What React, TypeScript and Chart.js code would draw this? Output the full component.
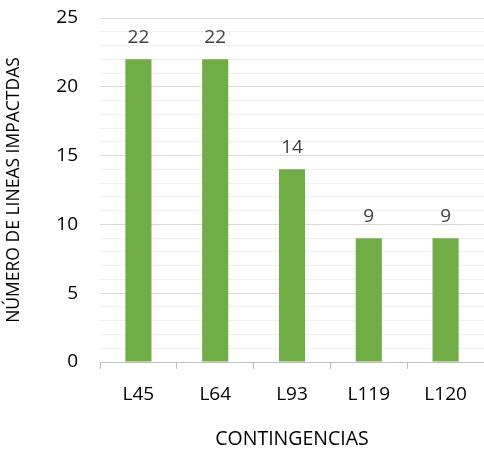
import React, { useEffect, useRef } from "react";
import { Chart, registerables } from "chart.js";

Chart.register(...registerables);

const categories = ["L45", "L64", "L93", "L119", "L120"];
const values = [22, 22, 14, 9, 9];
const yTitle = "NÚMERO DE LINEAS IMPACTDAS";
const xTitle = "CONTINGENCIAS";
const FONT = "'Open Sans', 'Liberation Sans', sans-serif";

const valueLabels = {
  id: "valueLabels",
  afterDatasetsDraw(chart: any) {
    const ctx = chart.ctx;
    const meta = chart.getDatasetMeta(0);
    ctx.save();
    ctx.fillStyle = "#404040";
    ctx.font = `19px ${FONT}`;
    ctx.textAlign = "center";
    ctx.textBaseline = "alphabetic";
    meta.data.forEach((bar: any, i: number) => {
      ctx.fillText(String(values[i]), bar.x, bar.y - 16);
    });
    ctx.restore();
  },
};

export default function App() {
  const ref = useRef<HTMLCanvasElement>(null);
  useEffect(() => {
    document.body.style.margin = "0";
    const chart = new Chart(ref.current!, {
      type: "bar",
      data: {
        labels: categories,
        datasets: [
          {
            data: values,
            backgroundColor: "#70ad47",
            categoryPercentage: 1,
            barPercentage: 0.34,
          },
        ],
      },
      options: {
        responsive: false,
        animation: false,
        layout: { padding: { top: 18, right: 0, left: 0, bottom: 0 } },
        plugins: { legend: { display: false }, tooltip: { enabled: false } },
        scales: {
          x: {
            grid: {
              drawOnChartArea: false,
              drawTicks: true,
              tickLength: 7,
              color: "#bfbfbf",
              offset: true,
            },
            border: { color: "#bfbfbf", width: 1 },
            ticks: {
              color: "#000000",
              font: { family: FONT, size: 19 },
              padding: 14,
            },
            title: {
              display: true,
              text: xTitle,
              color: "#000000",
              font: { family: FONT, size: 19.5 },
              padding: { top: 0, bottom: 1 },
            },
            afterFit(scale: any) {
              scale.height = 90;
            },
          },
          y: {
            min: 0,
            max: 25,
            grid: {
              drawTicks: false,
              color: (c: any) =>
                c.tick && c.tick.value % 5 === 0 ? "#d9d9d9" : "#f0f0f0",
              lineWidth: 1,
            },
            border: { display: false },
            ticks: {
              stepSize: 1,
              autoSkip: false,
              color: "#000000",
              font: { family: FONT, size: 19 },
              padding: 22,
              callback: (v: any) => (Number(v) % 5 === 0 ? String(v) : ""),
            },
            title: {
              display: true,
              text: yTitle,
              color: "#000000",
              font: { family: FONT, size: 17.5 },
              padding: { top: 4, bottom: 0 },
            },
            afterFit(scale: any) {
              scale.width = 100;
              scale.paddingTop = 0;
              scale.paddingBottom = 0;
            },
          },
        },
      },
      plugins: [valueLabels],
    });
    return () => chart.destroy();
  }, []);
  return (
    <div style={{ position: "absolute", left: 0, top: 0, width: 484, height: 452 }}>
      <canvas ref={ref} width={484} height={452} />
    </div>
  );
}
